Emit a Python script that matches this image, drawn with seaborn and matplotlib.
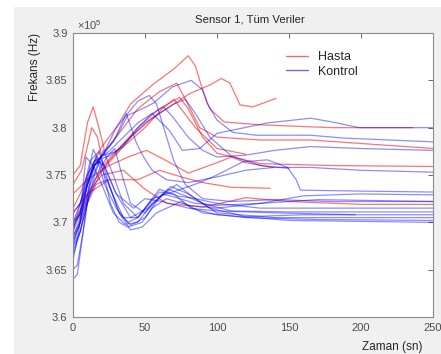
"""Sensor 1 frequency traces, Hasta vs Kontrol."""

import matplotlib

matplotlib.use("Agg")

import matplotlib.pyplot as plt
import pandas as pd
import seaborn as sns
from matplotlib.lines import Line2D
from matplotlib.patches import Rectangle

# frequency values are in units of 1e5 Hz, time in seconds
hasta_t = [
    [0, 5, 10, 20, 30, 40, 55, 70, 80, 85, 90, 95, 105, 130, 180, 236],
    [0, 8, 15, 25, 40, 55, 70, 81, 95, 103, 109, 116, 125, 141],
    [0, 5, 10, 14, 18, 22, 30, 45, 60, 72, 78, 88, 100, 130, 165, 250],
    [0, 6, 10, 13, 17, 21, 30, 45, 60, 74, 80, 90, 100, 130, 180, 250],
    [0, 10, 25, 40, 51, 65, 80, 100, 110, 120, 139],
    [0, 10, 25, 45, 60, 75, 90, 110, 137],
    [0, 10, 20, 35, 50, 65, 90, 120, 150, 200, 250],
    [0, 5, 12, 20, 35, 50, 62, 70, 85, 100, 120],
]
hasta_f = [
    [3.715, 3.73, 3.75, 3.78, 3.80, 3.825, 3.845, 3.862, 3.876, 3.865, 3.84, 3.82, 3.806, 3.803, 3.80, 3.80],
    [3.70, 3.72, 3.745, 3.765, 3.79, 3.81, 3.825, 3.836, 3.845, 3.852, 3.847, 3.824, 3.822, 3.831],
    [3.75, 3.76, 3.805, 3.822, 3.80, 3.775, 3.79, 3.82, 3.838, 3.847, 3.83, 3.80, 3.79, 3.787, 3.787, 3.778],
    [3.74, 3.755, 3.78, 3.80, 3.79, 3.76, 3.775, 3.80, 3.82, 3.832, 3.82, 3.79, 3.773, 3.762, 3.760, 3.759],
    [3.73, 3.745, 3.76, 3.77, 3.776, 3.765, 3.752, 3.763, 3.769, 3.763, 3.758],
    [3.71, 3.73, 3.745, 3.745, 3.755, 3.748, 3.742, 3.737, 3.736],
    [3.695, 3.73, 3.75, 3.755, 3.735, 3.72, 3.716, 3.726, 3.722, 3.719, 3.719],
    [3.685, 3.70, 3.73, 3.755, 3.78, 3.80, 3.82, 3.83, 3.80, 3.778, 3.772],
]

kontrol_t = [
    [0, 5, 10, 15, 20, 30, 38, 48, 56, 69, 82, 90, 93, 100, 111, 127, 165, 188, 250],
    [0, 5, 10, 15, 25, 35, 45, 55, 67, 76, 88, 100, 135, 165, 180, 199, 250],
    [0, 5, 10, 15, 22, 30, 38, 45, 53, 58, 63, 70, 78, 90, 110, 140, 180, 250],
    [0, 5, 10, 15, 25, 35, 45, 55, 63, 70, 80, 90, 100, 120, 140, 165, 200, 250],
    [0, 5, 10, 15, 20, 28, 37, 44, 49, 55, 65, 80, 100, 120, 140, 165, 200, 250],
    [0, 3, 8, 12, 16, 22, 30, 38, 45, 55, 65, 75, 88, 100, 118, 135, 149, 155, 158, 200, 250],
    [0, 4, 8, 12, 18, 25, 32, 40, 50, 62, 72, 85, 100, 130, 160, 200, 250],
    [0, 5, 10, 14, 20, 26, 32, 38, 48, 55, 65, 80, 100, 130, 170, 210, 250],
    [0, 5, 10, 15, 21, 28, 35, 45, 60, 72, 85, 100, 130, 170, 250],
    [0, 6, 12, 18, 24, 29, 34, 40, 50, 66, 78, 90, 110, 150, 250],
    [0, 4, 8, 14, 20, 30, 42, 50, 62, 80, 100, 140, 196],
    [0, 5, 10, 16, 22, 30, 40, 52, 68, 80, 95, 120, 160, 250],
    [0, 5, 9, 14, 20, 28, 36, 45, 55, 72, 85, 100, 140, 250],
    [0, 5, 10, 16, 24, 32, 40, 48, 58, 75, 90, 120, 170, 250],
    [0, 3, 7, 12, 18, 26, 35, 45, 60, 70, 82, 100, 150, 250],
    [0, 5, 10, 15, 20, 30, 40, 50, 60, 70, 78, 85, 95, 110, 130, 150],
]
kontrol_f = [
    [3.68, 3.70, 3.74, 3.76, 3.77, 3.79, 3.813, 3.82, 3.826, 3.843, 3.85, 3.84, 3.826, 3.808, 3.795, 3.792, 3.792, 3.789, 3.785],
    [3.675, 3.70, 3.74, 3.765, 3.77, 3.78, 3.80, 3.815, 3.797, 3.776, 3.778, 3.794, 3.805, 3.81, 3.806, 3.80, 3.80],
    [3.665, 3.69, 3.73, 3.76, 3.775, 3.80, 3.815, 3.828, 3.834, 3.825, 3.80, 3.765, 3.74, 3.725, 3.722, 3.724, 3.722, 3.722],
    [3.69, 3.72, 3.75, 3.765, 3.775, 3.79, 3.805, 3.815, 3.822, 3.81, 3.79, 3.776, 3.769, 3.771, 3.776, 3.78, 3.778, 3.776],
    [3.70, 3.72, 3.745, 3.76, 3.77, 3.785, 3.815, 3.784, 3.769, 3.755, 3.745, 3.742, 3.748, 3.755, 3.758, 3.758, 3.755, 3.753],
    [3.64, 3.645, 3.70, 3.75, 3.77, 3.74, 3.715, 3.70, 3.705, 3.725, 3.73, 3.735, 3.742, 3.75, 3.764, 3.766, 3.758, 3.745, 3.734, 3.733, 3.732],
    [3.66, 3.69, 3.74, 3.765, 3.775, 3.74, 3.71, 3.697, 3.705, 3.73, 3.726, 3.72, 3.718, 3.72, 3.728, 3.73, 3.729],
    [3.68, 3.70, 3.745, 3.777, 3.76, 3.72, 3.70, 3.695, 3.70, 3.715, 3.725, 3.718, 3.715, 3.72, 3.724, 3.723, 3.722],
    [3.67, 3.69, 3.72, 3.75, 3.776, 3.75, 3.72, 3.705, 3.735, 3.728, 3.725, 3.72, 3.715, 3.715, 3.715],
    [3.70, 3.71, 3.73, 3.755, 3.77, 3.778, 3.75, 3.72, 3.71, 3.735, 3.728, 3.72, 3.712, 3.711, 3.711],
    [3.685, 3.70, 3.73, 3.76, 3.765, 3.73, 3.715, 3.725, 3.722, 3.715, 3.712, 3.71, 3.708],
    [3.71, 3.72, 3.74, 3.765, 3.76, 3.73, 3.705, 3.715, 3.738, 3.73, 3.715, 3.706, 3.708, 3.708],
    [3.695, 3.71, 3.769, 3.76, 3.74, 3.71, 3.698, 3.70, 3.72, 3.74, 3.725, 3.71, 3.705, 3.705],
    [3.675, 3.69, 3.72, 3.74, 3.745, 3.71, 3.692, 3.695, 3.71, 3.722, 3.71, 3.705, 3.703, 3.702],
    [3.65, 3.655, 3.69, 3.74, 3.765, 3.735, 3.705, 3.705, 3.732, 3.73, 3.715, 3.708, 3.702, 3.70],
    [3.69, 3.71, 3.74, 3.76, 3.77, 3.775, 3.79, 3.805, 3.815, 3.825, 3.83, 3.815, 3.79, 3.77, 3.76, 3.757],
]

group_names = ["Hasta", "Kontrol"]
group_colors = {"Hasta": "#ff0000", "Kontrol": "#0000ff"}
group_alpha = {"Hasta": 0.55, "Kontrol": 0.45}


def build_frame() -> pd.DataFrame:
    """Stack every trace into one long dataframe."""
    records = []
    for name, times, freqs in [
        ("Hasta", hasta_t, hasta_f),
        ("Kontrol", kontrol_t, kontrol_f),
    ]:
        for idx, (ts, fs) in enumerate(zip(times, freqs)):
            for t, f in zip(ts, fs):
                records.append({"t": t, "f": f, "group": name, "line": f"{name}{idx}"})
    return pd.DataFrame(records)


def main() -> None:
    sns.set_style("white")
    plt.rcParams["font.family"] = ["Liberation Sans", "DejaVu Sans"]
    plt.rcParams["mathtext.fontset"] = "custom"
    plt.rcParams["mathtext.rm"] = "Liberation Sans"

    df = build_frame()

    fig = plt.figure(figsize=(4.41, 3.54), dpi=100, facecolor="white")
    fig.patches.append(
        Rectangle((14 / 441, 0), 1, 1 - 7 / 354, transform=fig.transFigure,
                  facecolor="#f0f0f0", edgecolor="none", zorder=-10)
    )
    ax = fig.add_axes([73 / 441, 1 - 317 / 354, 360 / 441, 284 / 354])
    ax.set_facecolor("white")

    for name in group_names:
        sub = df[df["group"] == name]
        sns.lineplot(
            data=sub, x="t", y="f", units="line", estimator=None, sort=False,
            color=group_colors[name], alpha=group_alpha[name], linewidth=0.9,
            legend=False, ax=ax,
        )

    ax.set_xlim(0, 250)
    ax.set_ylim(3.6, 3.9)
    ax.set_xticks([0, 50, 100, 150, 200, 250])
    ax.set_yticks([3.6, 3.65, 3.7, 3.75, 3.8, 3.85, 3.9])
    ax.set_yticklabels(["3.6", "3.65", "3.7", "3.75", "3.8", "3.85", "3.9"])
    ax.tick_params(direction="in", length=3.5, width=0.6, top=True, right=True,
                   labelsize=8, colors="#4d4d4d", pad=4)
    for spine in ax.spines.values():
        spine.set_color("#8a8a8a")
        spine.set_linewidth(0.8)
    ax.set_xlabel("")
    ax.set_ylabel("")

    fig.text(392 / 441, 1 - 347 / 354, "Zaman (sn)", ha="center", va="center",
             fontsize=8.5, color="#262626")
    fig.text(35 / 441, 1 - 67 / 354, "Frekans (Hz)", ha="center", va="center",
             rotation=90, fontsize=8.5, color="#262626")
    fig.text(250 / 441, 1 - 19 / 354, "Sensor 1, Tüm Veriler", ha="center", va="center",
             fontsize=8.2, color="#262626")
    ax.text(0.01, 1.005, r"$\times10^{5}$", transform=ax.transAxes, ha="left", va="bottom",
            fontsize=8, color="#4d4d4d")

    handles = [Line2D([], [], color=group_colors[n], alpha=0.6, linewidth=1.0) for n in group_names]
    ax.legend(handles, group_names, loc="upper left", bbox_to_anchor=(0.56, 0.975),
              frameon=False, fontsize=9, handlelength=1.8, handletextpad=0.8,
              labelspacing=0.2)

    fig.savefig("out.png", dpi=100)
    plt.close(fig)


if __name__ == "__main__":
    main()
